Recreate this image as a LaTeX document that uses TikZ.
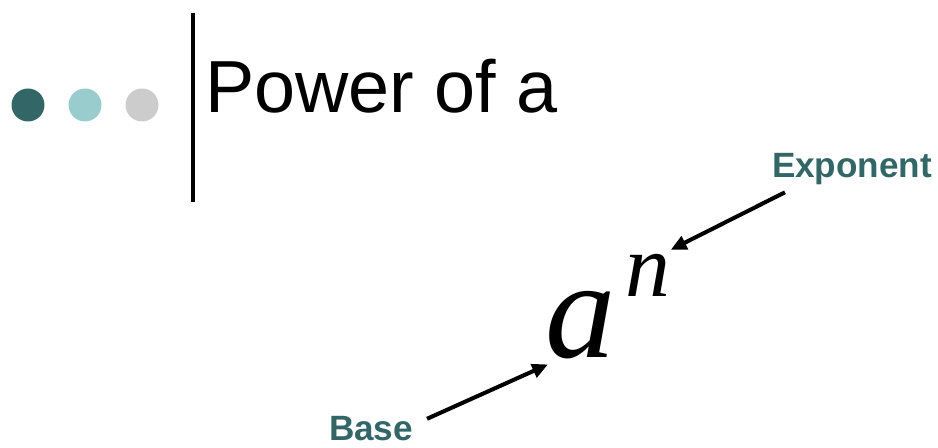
\documentclass[tikz,border=0pt]{standalone}
\usepackage{fontspec}
\setmainfont{Liberation Sans}
\newfontfamily\timesfont{Liberation Serif}
\usetikzlibrary{arrows.meta}
\definecolor{dotdark}{HTML}{336666}
\definecolor{dotlight}{HTML}{99CCCC}
\definecolor{dotgrey}{HTML}{CCCCCC}
\definecolor{labelteal}{HTML}{336666}

\begin{document}
\begin{tikzpicture}[x=0.02cm, y=-0.02cm,
    every node/.style={inner sep=0pt, outer sep=0pt},
    lbl/.style={font=\fontsize{20}{24}\selectfont\bfseries, text=labelteal, anchor=base west},
    pointer/.style={line width=2.3pt, -{Triangle[length=9pt, width=8pt]}}]
  \useasboundingbox (0,0) rectangle (938,448);
  % slide decoration
  \foreach \x/\col in {28/dotdark, 85/dotlight, 142/dotgrey}
    \fill[\col] (\x,105) circle[radius=16.5];
  \draw[line width=2.3pt] (193,13) -- (193,202);
  \node[anchor=base west, font=\fontsize{42}{50}\selectfont] (title) at (205,113) {Power of a};
  % the power
  \node[anchor=base west, font=\timesfont\itshape\fontsize{80}{90}\selectfont] (base) at (545,358) {a};
  \node[anchor=base west, font=\timesfont\itshape\fontsize{51}{60}\selectfont] (expo) at (625,297) {n};
  \node[lbl] (expolbl) at (772,178) {Exponent};
  \node[lbl] (baselbl) at (329,441) {Base};
  \draw[pointer] ([shift={(13,7)}]expolbl.south west) -- ([shift={(1,-5)}]expo.north east);
  \draw[pointer] ([shift={(14,2)}]baselbl.north east) -- ([shift={(3,5)}]base.south west);
\end{tikzpicture}
\end{document}
